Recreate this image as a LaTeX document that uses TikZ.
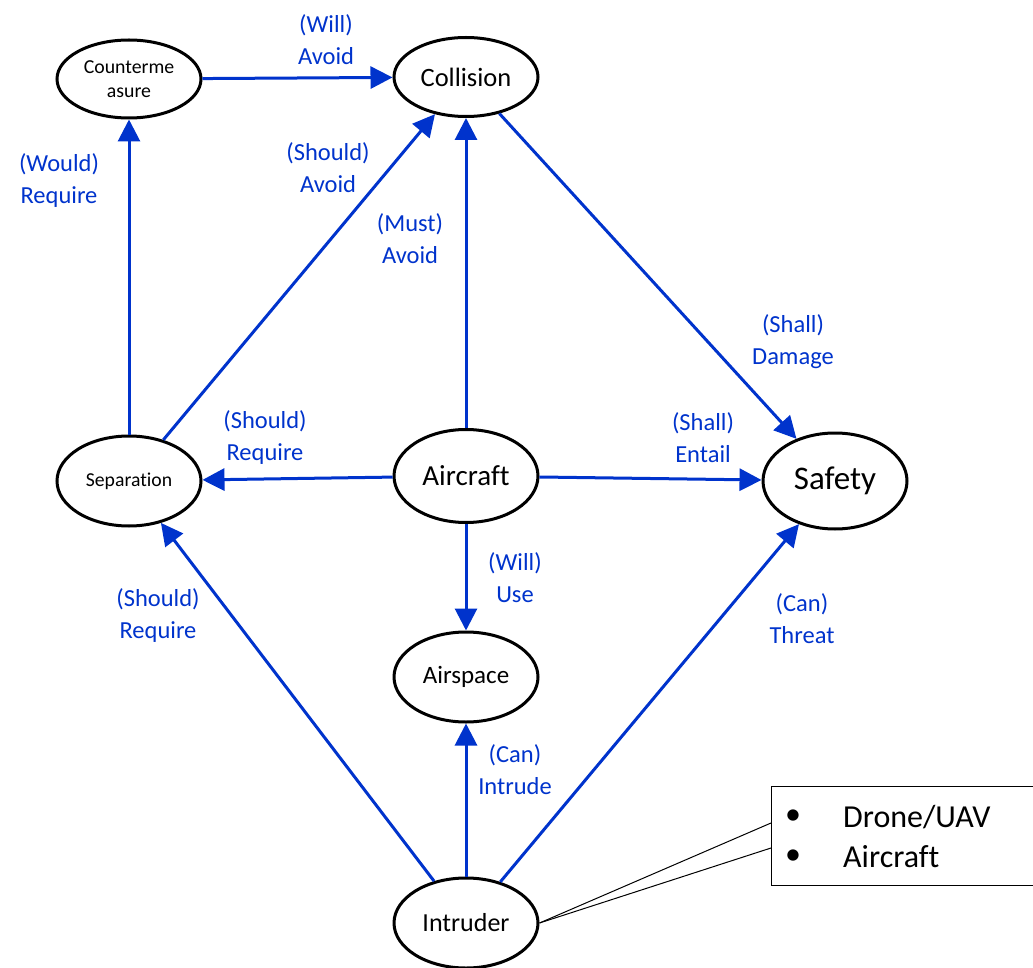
\documentclass[tikz,border=0pt]{standalone}
\usepackage{fontspec}
\setmainfont{Carlito}[Ligatures=NoCommon]
\usetikzlibrary{shapes.geometric,arrows.meta}
\definecolor{linkblue}{RGB}{0,51,204}
\begin{document}
\begin{tikzpicture}[x=1pt,y=-1pt,
  concept/.style={ellipse,draw=black,line width=3pt,fill=white,inner sep=0pt,
    minimum width=144pt,align=center},
  link/.style={draw=linkblue,line width=3pt,-{Triangle[length=22pt,width=22pt]}},
  rel/.style={text=linkblue,align=center,inner sep=0pt,font=\fontsize{24.5}{32}\selectfont},
  itemtext/.style={font=\fontsize{32}{38}\selectfont,inner sep=0pt}]
\useasboundingbox (0,0) rectangle (1033,968);
\clip (0,0) rectangle (1033,968);

% concepts
\node[concept,minimum height=78pt,font=\fontsize{19.8}{24}\selectfont] (cm) at (129,79) {Counterme\\asure};
\node[concept,minimum height=79pt,font=\fontsize{26.5}{30}\selectfont] (col) at (466,77) {Collision};
\node[concept,minimum height=90pt,font=\fontsize{19.7}{24}\selectfont] (sep) at (129,481) {Separation};
\node[concept,minimum height=93pt,font=\fontsize{29}{34}\selectfont] (air) at (466,476) {Aircraft};
\node[concept,minimum height=96pt,font=\fontsize{33}{38}\selectfont] (saf) at (835,481) {Safety};
\node[concept,minimum height=90pt,font=\fontsize{25}{30}\selectfont] (asp) at (466,677) {Airspace};
\node[concept,minimum height=90pt,font=\fontsize{26}{30}\selectfont] (intr) at (466,923) {Intruder};

% relations
\draw[link] (cm) -- (col);
\draw[link] (sep) -- (cm);
\draw[link] (sep) -- (col);
\draw[link] (air) -- (col);
\draw[link] (col) -- (saf);
\draw[link] (air) -- (sep);
\draw[link] (air) -- (saf);
\draw[link] (air) -- (asp);
\draw[link] (intr) -- (sep);
\draw[link] (intr) -- (asp);
\draw[link] (intr) -- (saf);

% relation labels
\node[rel] (l1) at (326,40) {(Will)\\Avoid};
\node[rel] (l2) at (59,181) {(Would)\\Require};
\node[rel] (l3) at (328,168) {(Should)\\Avoid};
\node[rel] (l4) at (410,239) {(Must)\\Avoid};
\node[rel] (l5) at (793,342) {(Shall)\\Damage};
\node[rel] (l6) at (265,438) {(Should)\\Require};
\node[rel] (l7) at (703,438) {(Shall)\\Entail};
\node[rel] (l8) at (515,578) {(Will)\\Use};
\node[rel] (l9) at (158,616) {(Should)\\Require};
\node[rel] (l10) at (802,619) {(Can)\\Threat};
\node[rel] (l11) at (515,770) {(Can)\\Intrude};

% callout with intruder types
\node[draw=black,line width=1.3pt,fill=white,anchor=north west,minimum width=275pt,
  minimum height=99pt,inner sep=0pt] (callout) at (771,786) {};
\coordinate (c1) at (771,823);
\coordinate (c2) at (771,848);
\draw[line width=1pt] (intr.east) -- (c1);
\draw[line width=1pt] (intr.east) -- (c2);
\node[itemtext] (b1) at (793,817) {•};
\node[itemtext] (b2) at (793,857) {•};
\node[itemtext,anchor=west] (t1) at (843,817) {Drone/UAV};
\node[itemtext,anchor=west] (t2) at (843,857) {Aircraft};
\end{tikzpicture}
\end{document}
